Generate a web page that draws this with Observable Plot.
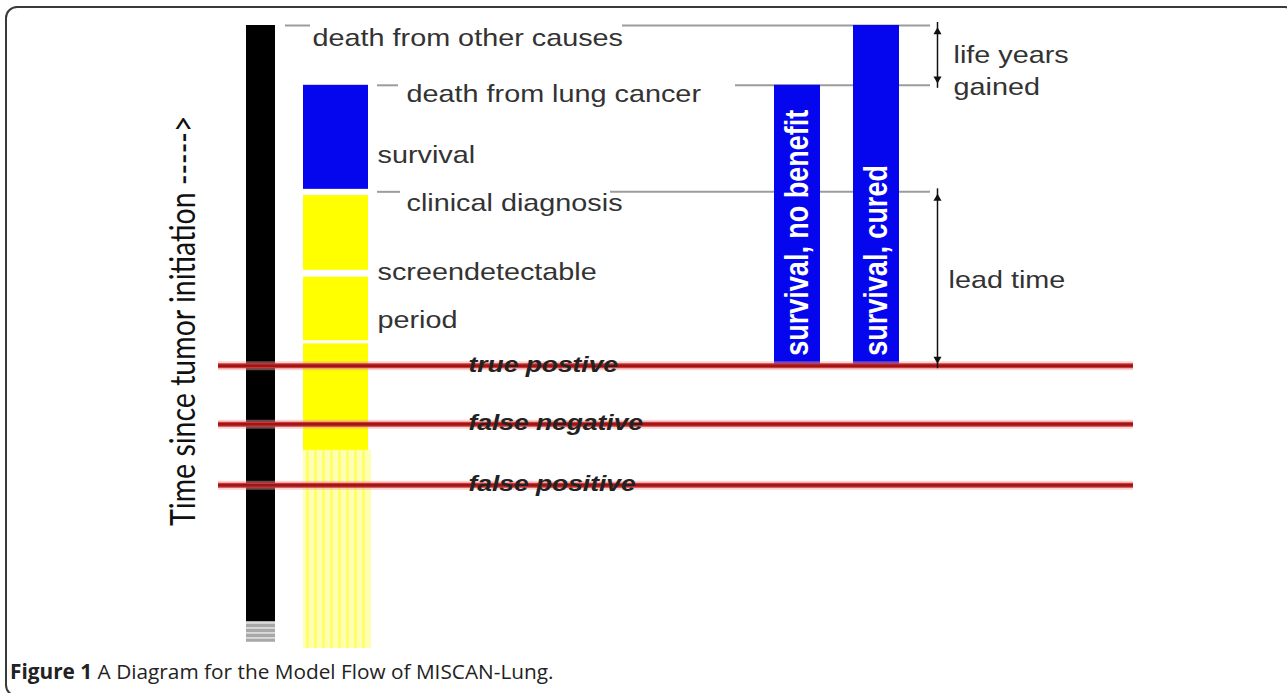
<!DOCTYPE html>
<html>
<head>
<meta charset="utf-8">
<script src="https://cdn.jsdelivr.net/npm/d3@7"></script>
<script src="https://cdn.jsdelivr.net/npm/@observablehq/plot@0.6"></script>
<style>
  html, body { margin: 0; padding: 0; background: #fff; width: 1287px; height: 693px; overflow: hidden; }
  #frame { position: absolute; left: 5px; top: 6px; width: 1292px; height: 691px; box-sizing: border-box;
           border: 2px solid #3a3a3a; border-radius: 12px; }
  #chart { position: absolute; left: 0; top: 0; }
  #caption { position: absolute; left: 10px; top: 657px; font-family: "Open Sans", sans-serif; font-size: 20.8px; color: #222; }
</style>
</head>
<body>
<div id="frame"></div>
<div id="chart"></div>
<div id="caption"><b>Figure 1</b> A Diagram for the Model Flow of MISCAN-Lung.</div>
<script>
// ---------- DATA (time since tumor initiation, arbitrary units: 0 = onset, 100 = death from other causes) ----------
const milestoneLabels = ["death from other causes", "death from lung cancer", "clinical diagnosis"];
const milestoneTimes = [100, 90.4, 73.3];
const milestoneLabelTimes = [97.9, 88.9, 71.4];

const lifeSpan = [4.3, 100];            // black bar
const lifeTail = [1.0, 4.3];            // faded end of black bar
const survivalSpan = [73.7, 90.4];      // blue: survival after clinical diagnosis
const detectableSegments = [[31.8, 48.9], [49.4, 59.6], [60.7, 72.7]]; // yellow: screen-detectable period
const preDetectableSpan = [0, 31.8];    // pale yellow: preclinical, not yet detectable

const phaseLabels = ["survival", "screendetectable", "period"];
const phaseLabelTimes = [79.1, 60.4, 52.6];

const screenLabels = ["true postive", "false negative", "false positive"];
const screenTimes = [45.4, 36.0, 26.2];

const outcomeLabels = ["survival, no benefit", "survival, cured"];
const outcomeStart = 45.4;
const outcomeEnds = [90.4, 100];

const intervalNames = ["life years gained", "lead time"];
const intervalSpans = [[90.4, 100], [45.4, 73.3]];
const intervalLabelLines = [["life years", "gained"], ["lead time"]];
const intervalLabelTimes = [[95.2, 90.0], [59.1]];

const axisTitle = "Time since tumor initiation ----->";
const axisTitleTime = 52.6;

// ---------- LAYOUT (horizontal lanes of the diagram) ----------
const LANE = { life: [246, 275], tumor: [303, 368], noBenefit: [774, 820], cured: [853, 899] };
const ARROW_X = 937;
const SCREEN_X = [218, 1133];
const GUIDE_SEGMENTS = [[[285, 310], [622, 930]], [[377, 398], [735, 930]], [[377, 400], [610, 930]]];
const MILESTONE_LABEL_X = [312, 406, 406];
const PHASE_LABEL_X = 377;
const SCREEN_LABEL_X = 468;
const INTERVAL_LABEL_X = [953, 948];
const AXIS_TITLE_X = 184;

// ---------- build tables ----------
const guides = milestoneTimes.flatMap((t, i) => GUIDE_SEGMENTS[i].map(([a, b]) => ({ t, x1: a, x2: b })));
const milestoneText = milestoneLabels.map((label, i) => ({ label, t: milestoneLabelTimes[i], x: MILESTONE_LABEL_X[i] }));
const phaseText = phaseLabels.map((label, i) => ({ label, t: phaseLabelTimes[i], x: PHASE_LABEL_X }));
const detect = detectableSegments.map(([a, b]) => ({ t1: a, t2: b }));
const screens = screenLabels.map((label, i) => ({ label, t: screenTimes[i] }));
const outcomeLanes = [LANE.noBenefit, LANE.cured];
const outcomes = outcomeLabels.map((label, i) => ({ label, t1: outcomeStart, t2: outcomeEnds[i], x1: outcomeLanes[i][0], x2: outcomeLanes[i][1], xc: (outcomeLanes[i][0] + outcomeLanes[i][1]) / 2 }));
const intervals = intervalNames.map((name, i) => ({ name, t1: intervalSpans[i][0], t2: intervalSpans[i][1] }));
const intervalText = intervalLabelLines.flatMap((lines, i) => lines.map((label, j) => ({ label, t: intervalLabelTimes[i][j], x: INTERVAL_LABEL_X[i] })));
const stripeXs = d3.range(LANE.tumor[0] + 4, LANE.tumor[1] + 2, 8);

const chart = Plot.plot({
  width: 1287,
  height: 655,
  margin: 0,
  x: { domain: [0, 1287], axis: null },
  y: { domain: [0, 100], range: [648, 25], axis: null },
  marks: [
    // grey guide lines at milestones
    Plot.ruleY(guides, { y: "t", x1: "x1", x2: "x2", stroke: "#9c9c9c", strokeWidth: 2 }),
    // black life bar
    Plot.rect([lifeSpan], { x1: () => LANE.life[0], x2: () => LANE.life[1], y1: d => d[0], y2: d => d[1], fill: "#000" }),
    Plot.rect([lifeTail], { x1: () => LANE.life[0], x2: () => LANE.life[1], y1: d => d[0], y2: d => d[1], fill: "#a8a8a8" }),
    Plot.ruleY(d3.range(lifeTail[0] + 0.7, lifeTail[1], 0.8), { y: d => d, x1: () => LANE.life[0], x2: () => LANE.life[1], stroke: "#e6e6e6", strokeWidth: 1.5 }),
    // pale preclinical (not detectable) period
    Plot.rect([preDetectableSpan], { x1: () => LANE.tumor[0], x2: () => LANE.tumor[1] + 3, y1: d => d[0], y2: d => d[1], fill: "#ffffb4" }),
    Plot.ruleX(stripeXs, { x: d => d, y1: () => preDetectableSpan[0], y2: () => preDetectableSpan[1], stroke: "#ffff5a", strokeWidth: 2.5 }),
    // screen-detectable period (yellow)
    Plot.rect(detect, { x1: () => LANE.tumor[0], x2: () => LANE.tumor[1], y1: "t1", y2: "t2", fill: "#ffff00" }),
    // survival (blue)
    Plot.rect([survivalSpan], { x1: () => LANE.tumor[0], x2: () => LANE.tumor[1], y1: d => d[0], y2: d => d[1], fill: "#0505ee" }),
    // outcome bars
    Plot.rect(outcomes, { x1: "x1", x2: "x2", y1: "t1", y2: "t2", fill: "#0505ee" }),
    Plot.text(outcomes, { x: "xc", y: "t1", text: "label", rotate: -90, textAnchor: "start", lineAnchor: "middle", dy: -10,
      fill: "#fff", fontSize: 27, fontWeight: "bold", fontFamily: "Liberation Sans, Arial, sans-serif" }),
    // screening lines (red)
    Plot.ruleY(screens, { y: "t", x1: () => SCREEN_X[0], x2: () => SCREEN_X[1], stroke: "#f2a0a0", strokeWidth: 9, strokeOpacity: 0.45 }),
    Plot.ruleY(screens, { y: "t", x1: () => SCREEN_X[0], x2: () => SCREEN_X[1], stroke: "#d93434", strokeWidth: 5 }),
    Plot.ruleY(screens, { y: "t", x1: () => SCREEN_X[0], x2: () => SCREEN_X[1], stroke: "#961818", strokeWidth: 2.5 }),
    Plot.text(screens, { x: () => SCREEN_LABEL_X, y: "t", text: "label", textAnchor: "start", lineAnchor: "middle", dy: -1,
      fill: "#222", fontSize: 22, fontWeight: "bold", fontStyle: "italic", fontFamily: "Liberation Sans, Arial, sans-serif" }),
    // interval arrows
    Plot.ruleX(intervals, { x: () => ARROW_X, y1: "t1", y2: "t2", stroke: "#111", strokeWidth: 1.5, insetTop: 3, insetBottom: 3 }),
    Plot.dot(intervals, { x: () => ARROW_X, y: "t2", symbol: "triangle", r: 3, fill: "#111", dy: 6.5 }),
    Plot.dot(intervals, { x: () => ARROW_X, y: "t1", symbol: "triangle", r: 3, fill: "#111", rotate: 180, dy: -6.5 }),
    // labels
    Plot.text(milestoneText, { x: "x", y: "t", text: "label", textAnchor: "start", lineAnchor: "middle",
      fill: "#333", fontSize: 24, fontFamily: "Liberation Sans, Arial, sans-serif" }),
    Plot.text(phaseText, { x: "x", y: "t", text: "label", textAnchor: "start", lineAnchor: "middle",
      fill: "#333", fontSize: 24, fontFamily: "Liberation Sans, Arial, sans-serif" }),
    Plot.text(intervalText, { x: "x", y: "t", text: "label", textAnchor: "start", lineAnchor: "middle",
      fill: "#333", fontSize: 24, fontFamily: "Liberation Sans, Arial, sans-serif" }),
    // vertical axis title
    Plot.text([axisTitle], { x: () => AXIS_TITLE_X, y: () => axisTitleTime, text: d => d, rotate: -90, textAnchor: "middle", lineAnchor: "middle",
      fill: "#111", fontSize: 28.5, fontFamily: "Lato, sans-serif" })
  ]
});

// the original figure is stretched horizontally: widen glyphs about their anchor
d3.select(chart).selectAll("text").each(function () {
  const t = this.getAttribute("transform") || "";
  this.setAttribute("transform", t.replace(/^(translate\([^)]*\))/, "$1 scale(1.2,1)"));
});

document.getElementById("chart").appendChild(chart);
</script>
</body>
</html>
